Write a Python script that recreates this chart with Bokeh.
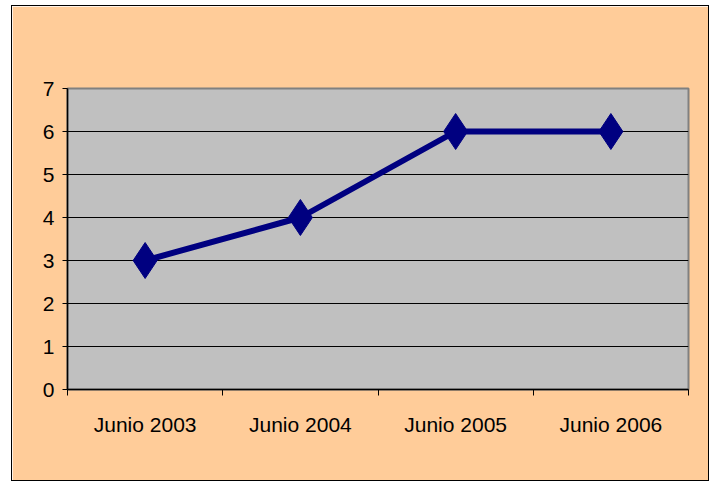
from bokeh.plotting import figure
from bokeh.models import Range1d, FixedTicker
from bokeh.embed import file_html
from bokeh.resources import INLINE

categories = ["Junio 2003", "Junio 2004", "Junio 2005", "Junio 2006"]
values = [3, 4, 6, 6]
y_ticks = [0, 1, 2, 3, 4, 5, 6, 7]

xs = [i + 0.5 for i in range(len(categories))]

p = figure(width=698, height=476, output_backend="svg", toolbar_location=None,
           x_range=Range1d(0, len(categories)), y_range=Range1d(0, 7),
           min_border_left=55, min_border_right=22, min_border_top=82, min_border_bottom=93)
p.styles = {"border": "1px solid black", "margin": "5px 0 0 11px"}
p.border_fill_color = "#FFCC99"
p.background_fill_color = "#C0C0C0"
p.outline_line_color = "#808080"
p.outline_line_width = 2

p.xgrid.visible = False
p.ygrid.ticker = FixedTicker(ticks=y_ticks[1:-1])
p.ygrid.grid_line_color = "black"
p.ygrid.grid_line_width = 1

p.yaxis.ticker = FixedTicker(ticks=y_ticks)
p.yaxis.axis_line_color = "black"
p.yaxis.axis_line_width = 1.5
p.yaxis.major_tick_out = 5
p.yaxis.major_tick_in = 0
p.yaxis.minor_tick_line_color = None
p.yaxis.major_label_standoff = 8
p.yaxis.major_label_text_font = "Liberation Sans"
p.yaxis.major_label_text_font_size = "21px"
p.yaxis.major_label_text_color = "black"

p.xaxis.ticker = FixedTicker(ticks=xs, minor_ticks=list(range(len(categories) + 1)))
p.xaxis.major_label_overrides = {x: c for x, c in zip(xs, categories)}
p.xaxis.axis_line_color = "black"
p.xaxis.axis_line_width = 1.5
p.xaxis.major_tick_out = 0
p.xaxis.major_tick_in = 0
p.xaxis.minor_tick_out = 6
p.xaxis.minor_tick_in = 0
p.xaxis.minor_tick_line_color = "black"
p.xaxis.major_label_standoff = 17
p.xaxis.major_label_text_font = "Liberation Sans"
p.xaxis.major_label_text_font_size = "21px"
p.xaxis.major_label_text_color = "black"

p.line(xs, values, line_color="#000080", line_width=6)
p.scatter(xs, values, marker="diamond", size=36, fill_color="#000080", line_color="#000080")

open("out.html", "w").write(file_html(p, INLINE))
